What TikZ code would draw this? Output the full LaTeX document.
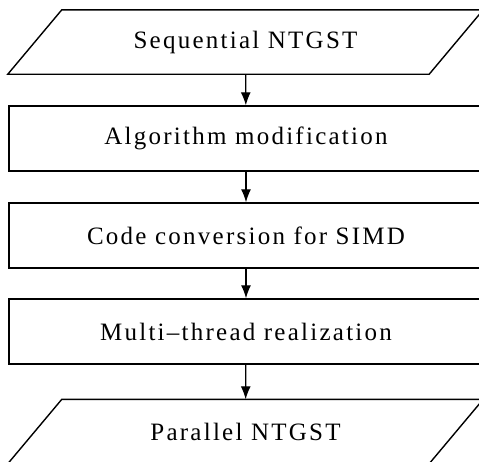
\documentclass[tikz,border=0pt]{standalone}
\usepackage{fontspec}
\setmainfont{Liberation Serif}[LetterSpace=9]
\usetikzlibrary{calc,arrows.meta,positioning}

\begin{document}
\begin{tikzpicture}[x=1pt,y=-1pt,
  procbox/.style={draw,line width=1.4pt,minimum width=474pt,minimum height=65pt,inner sep=0pt,font=\fontsize{25}{30}\selectfont},
  iobox/.style={minimum width=475pt,minimum height=64pt,inner sep=0pt,font=\fontsize{25}{30}\selectfont},
  slant/.style={line width=1.4pt},
  flow/.style={-{Latex[length=13pt,width=10pt]},line width=1.2pt}]
\useasboundingbox (0,0) rectangle (479,461);
\clip (0,0) rectangle (479,461);

\node[iobox] (seq) at (245.5,42) {Sequential NTGST};
\node[procbox] (algo) at (246,138.5) {Algorithm modification};
\node[procbox] (simd) at (246,235.5) {Code conversion for SIMD};
\node[procbox] (thread) at (246,331.5) {Multi\textendash thread realization};
\node[iobox] (par) at (245.5,431.5) {Parallel NTGST};

% input / output parallelograms
\draw[slant] (seq.south west) -- ([xshift=-54pt]seq.south east) -- (seq.north east)
  -- ([xshift=54pt]seq.north west) -- cycle;
\draw[slant] (par.south west) -- ([xshift=-54pt]par.south east) -- (par.north east)
  -- ([xshift=54pt]par.north west) -- cycle;

\draw[flow] (seq) -- (algo);
\draw[flow] (algo) -- (simd);
\draw[flow] (simd) -- (thread);
\draw[flow] (thread) -- (par);
\end{tikzpicture}
\end{document}
